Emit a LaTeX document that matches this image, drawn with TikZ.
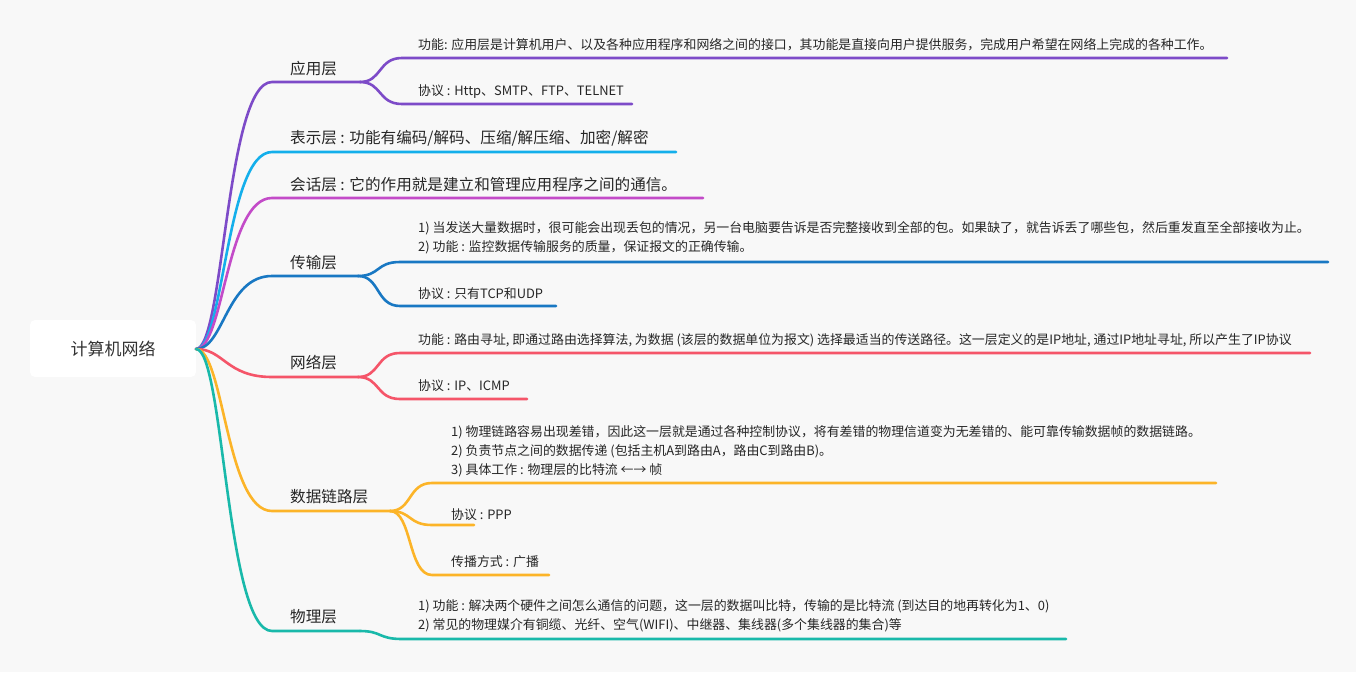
\documentclass[tikz,border=0pt]{standalone}
\usepackage{fontspec}
\setmainfont{Noto Sans CJK SC}
\begin{document}
\begin{tikzpicture}[x=1pt,y=-1pt,
  big/.style={anchor=west,inner sep=0pt,font=\fontsize{15.6}{18}\selectfont,text=black!85},
  small/.style={anchor=west,inner sep=0pt,font=\fontsize{12.9}{19}\selectfont,text=black!85,align=left},
  br/.style={line width=2.6pt,line cap=round}]
\definecolor{cA}{RGB}{125,75,200}
\definecolor{cB}{RGB}{20,175,235}
\definecolor{cC}{RGB}{195,75,200}
\definecolor{cD}{RGB}{25,120,195}
\definecolor{cE}{RGB}{245,85,105}
\definecolor{cF}{RGB}{252,180,40}
\definecolor{cG}{RGB}{25,185,170}
\fill[fill={rgb,255:red,248;green,248;blue,248}] (0,0) rectangle (1356,672);
\useasboundingbox (0,0) rectangle (1356,672);
\fill[white,rounded corners=5pt] (30,320) rectangle (196,377);
\node[inner sep=0pt,font=\fontsize{17}{20}\selectfont,text=black!80] (root) at (113,349) {计算机网络};
\coordinate (r) at (196,349);
% level1 labels
\node[big] (L1) at (290,69) {应用层};
\node[big] (L2) at (290,138) {表示层 : 功能有编码/解码、压缩/解压缩、加密/解密};
\node[big] (L3) at (290,185) {会话层 : 它的作用就是建立和管理应用程序之间的通信。};
\node[big] (L4) at (290,263) {传输层};
\node[big] (L5) at (290,363) {网络层};
\node[big] (L6) at (290,497) {数据链路层};
\node[big] (L7) at (290,617) {物理层};
% children
\node[small] (A1) at (418,45) {功能: 应用层是计算机用户、以及各种应用程序和网络之间的接口，其功能是直接向用户提供服务，完成用户希望在网络上完成的各种工作。};
\node[small] (A2) at (418,92) {协议 : Http、SMTP、FTP、TELNET};
\node[small] (D1) at (418,238) {1) 当发送大量数据时，很可能会出现丢包的情况，另一台电脑要告诉是否完整接收到全部的包。如果缺了，就告诉丢了哪些包，然后重发直至全部接收为止。\\2) 功能 : 监控数据传输服务的质量，保证报文的正确传输。};
\node[small] (D2) at (418,294) {协议 : 只有TCP和UDP};
\node[small] (E1) at (418,340) {功能 : 路由寻址, 即通过路由选择算法, 为数据 (该层的数据单位为报文) 选择最适当的传送路径。这一层定义的是IP地址, 通过IP地址寻址, 所以产生了IP协议};
\node[small] (E2) at (418,386) {协议 : IP、ICMP};
\node[small] (F1) at (451,451) {1) 物理链路容易出现差错，因此这一层就是通过各种控制协议，将有差错的物理信道变为无差错的、能可靠传输数据帧的数据链路。\\2) 负责节点之间的数据传递 (包括主机A到路由A，路由C到路由B)。\\3) 具体工作 : 物理层的比特流 ←→ 帧};
\node[small] (F2) at (451,515) {协议 : PPP};
\node[small] (F3) at (451,562) {传播方式 : 广播};
\node[small] (G1) at (418,616) {1) 功能 : 解决两个硬件之间怎么通信的问题，这一层的数据叫比特，传输的是比特流 (到达目的地再转化为1、0)\\2) 常见的物理媒介有铜缆、光纤、空气(WIFI)、中继器、集线器(多个集线器的集合)等};
% branches
\foreach \y/\e/\c/\n in {82/360/cA/a,152/676/cB/b,198/703/cC/c,276/358/cD/d,377/358/cE/e,511/390/cF/f,631/360/cG/g}{
  \coordinate (s\n) at (272,\y);
  \coordinate (t\n) at (\e,\y);
  \draw[br,\c] (r) .. controls (224,349) and (226,\y) .. (s\n) -- (t\n);
}
% sub-branches
\foreach \c/\xa/\ya/\yb/\xe in {cA/360/82/58/1227, cA/360/82/104/632,
  cD/358/276/262/1328, cD/358/276/306/556,
  cE/358/377/353/1310, cE/358/377/399/527,
  cF/390/511/483/1216, cF/390/511/525/474, cF/390/511/575/549,
  cG/360/631/639/1066}{
  \draw[br,\c] (\xa,\ya) .. controls (\xa+22,\ya) and (\xa+18,\yb) .. (\xa+42,\yb) -- (\xe,\yb);
}
\end{tikzpicture}
\end{document}
